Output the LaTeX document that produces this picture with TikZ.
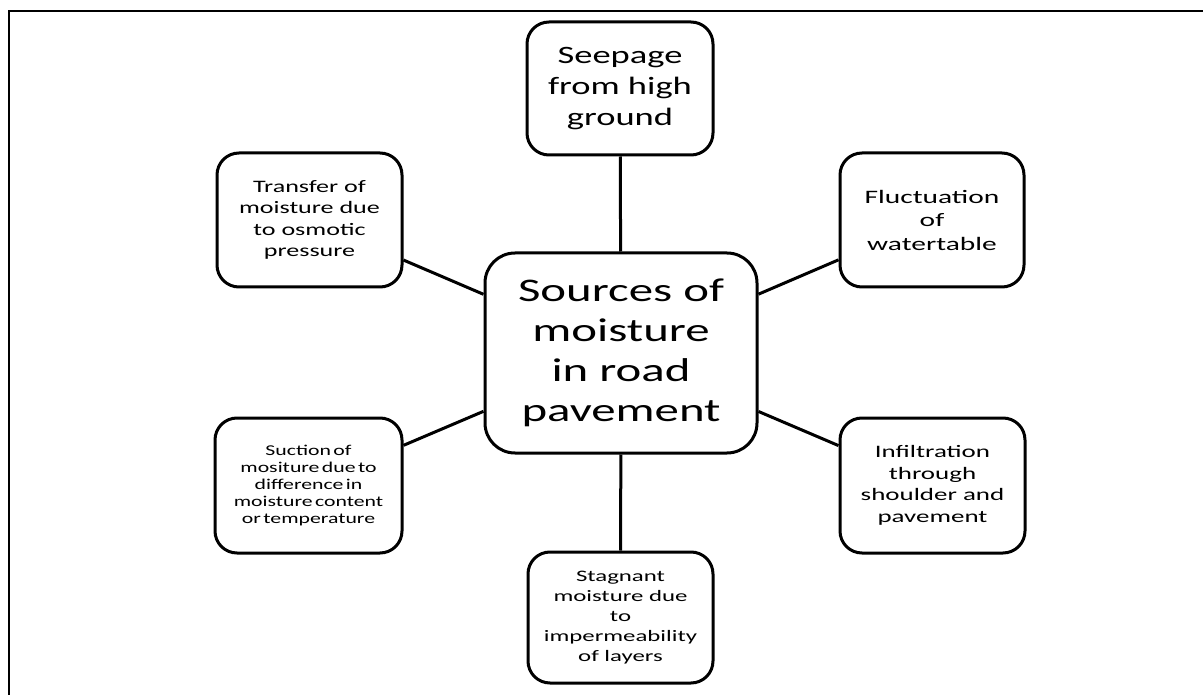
\documentclass[tikz,border=0pt]{standalone}
\usepackage{fontspec}
\setmainfont{Carlito}
% wide setting of the labels
\newcommand{\wide}[3]{\fontsize{#1}{#2}\selectfont\addfontfeature{FakeStretch=#3}}
\newcommand{\tightwords}{\spaceskip=0.16em\relax}
\begin{document}
\begin{tikzpicture}[x=1pt,y=-1pt,
  cause/.style={draw=black,line width=3pt,rounded corners=22pt,fill=white,
    align=center,inner sep=0pt,minimum width=#1},
  hub/.style={draw=black,line width=3pt,rounded corners=30pt,fill=white,
    align=center,inner sep=0pt,minimum width=272pt,minimum height=200pt,
    font=\wide{33}{40}{1.48}},
  link/.style={line width=3pt}]
\useasboundingbox (0,0) rectangle (1203,695);
\clip (0,0) rectangle (1203,695);
% frame around the figure
\draw[line width=2pt] (9,740) -- (9,11) -- (1250,11);

% central topic
\node[hub] (c) at (621,353) {Sources of\\moisture\\in road\\pavement};

% the six sources
\node[cause=186pt,minimum height=133pt,font=\wide{25}{31}{1.46}]
  (t) at (620,88.5) {Seepage\\from high\\ground};
\node[cause=185pt,minimum height=134pt,font=\wide{17.5}{21.5}{1.49}]
  (tl) at (309.5,220) {Transfer of\\moisture due\\to osmotic\\pressure};
\node[cause=184pt,minimum height=134pt,font=\wide{19}{23.5}{1.55}]
  (tr) at (932,220) {Fluctuation\\of\\watertable};
\node[cause=187pt,minimum height=135pt,font={\wide{15}{17}{1.45}\tightwords}]
  (bl) at (308.5,485.5) {Suction of\\mositure due to\\difference in\\moisture content\\or temperature};
\node[cause=185pt,minimum height=135pt,font=\wide{17.5}{21.5}{1.54}]
  (br) at (932.5,485.5) {Infiltration\\through\\shoulder and\\pavement};
\node[cause=185pt,minimum height=131pt,font=\wide{16}{20}{1.55}]
  (b) at (620.5,617.5) {Stagnant\\moisture due\\to\\impermeability\\of layers};

% spokes
\draw[link] (c) -- (t);
\draw[link] (c) -- (tl);
\draw[link] (c) -- (tr);
\draw[link] (c) -- (bl);
\draw[link] (c) -- (br);
\draw[link] (c) -- (b);
\end{tikzpicture}
\end{document}
